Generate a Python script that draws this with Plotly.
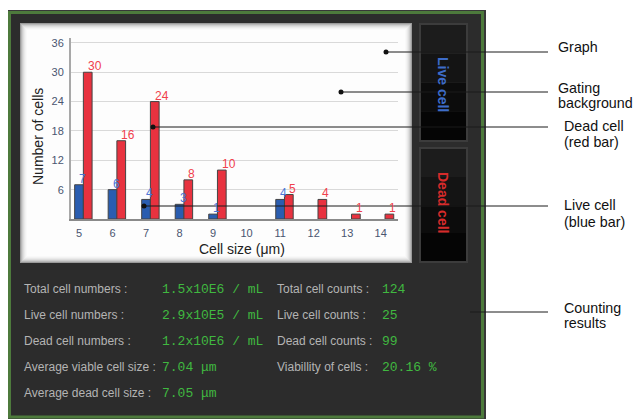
import plotly.graph_objects as go

# --- datos del histograma ---
cell_sizes = [5, 6, 7, 8, 9, 10, 11, 12, 13, 14]
live_counts = [7, 6, 4, 3, 1, 0, 4, 0, 0, 0]
dead_counts = [30, 16, 24, 8, 10, 0, 5, 4, 1, 1]
y_ticks = [6, 12, 18, 24, 30, 36]

# --- resultados del conteo ---
left_labels = ["Total cell numbers :", "Live cell numbers :", "Dead cell numbers :",
               "Average viable cell size :", "Average dead cell size :"]
left_values = ["1.5x10E6 / mL", "2.9x10E5 / mL", "1.2x10E6 / mL", "7.04 \u03bcm", "7.05 \u03bcm"]
right_labels = ["Total cell counts :", "Live cell counts :", "Dead cell counts :", "Viabillity of cells :"]
right_values = ["124", "25", "99", "20.16 %"]

# la pagina html deja un margen de 8 px arriba y a la izquierda
OFF = 8
FW, FH = 641 - OFF, 419 - OFF


def px(x):
    return (x - OFF) / FW


def py(y):
    return 1 - (y - OFF) / FH


BLUE = "#2a5db0"
RED = "#e8323f"
BAR_W = 0.26

fig = go.Figure()

fig.add_trace(go.Bar(
    x=cell_sizes, y=[v if v else None for v in live_counts], offset=-BAR_W / 2, width=BAR_W,
    marker=dict(color=BLUE, line=dict(color="#444", width=1)),
    name="Live cell", showlegend=False,
))
fig.add_trace(go.Bar(
    x=cell_sizes, y=[v if v else None for v in dead_counts], offset=BAR_W / 2, width=BAR_W,
    marker=dict(color=RED, line=dict(color="#444", width=1)),
    name="Dead cell", showlegend=False,
))

annotations = []

# etiquetas de valor sobre las barras
for s, v in zip(cell_sizes, live_counts):
    if v > 0:
        annotations.append(dict(x=s, y=v, xref="x", yref="y", text=str(v), showarrow=False,
                                xanchor="left", yanchor="bottom", xshift=-2, yshift=-3,
                                font=dict(family="Liberation Sans, Arial", size=12, color="#4d76d6")))
for s, v in zip(cell_sizes, dead_counts):
    if v > 0:
        annotations.append(dict(x=s + BAR_W, y=v, xref="x", yref="y", text=str(v), showarrow=False,
                                xanchor="left", yanchor="bottom", xshift=-2, yshift=-3,
                                font=dict(family="Liberation Sans, Arial", size=12, color="#f0404c")))

# titulos de ejes
annotations.append(dict(x=px(38), y=py(136), xref="paper", yref="paper", text="Number of cells",
                        textangle=-90, showarrow=False, xanchor="center", yanchor="middle",
                        font=dict(family="Liberation Sans, Arial", size=14, color="#222")))
annotations.append(dict(x=px(242), y=py(249), xref="paper", yref="paper", text="Cell size (\u03bcm)",
                        showarrow=False, xanchor="center", yanchor="middle",
                        font=dict(family="Liberation Sans, Arial", size=14, color="#222")))

# botones
annotations.append(dict(x=px(443), y=py(84), xref="paper", yref="paper", text="<b>Live cell</b>",
                        textangle=90, showarrow=False, xanchor="center", yanchor="middle",
                        font=dict(family="Liberation Sans, Arial", size=14, color="#3d6cc9")))
annotations.append(dict(x=px(443), y=py(202), xref="paper", yref="paper", text="<b>Dead cell</b>",
                        textangle=90, showarrow=False, xanchor="center", yanchor="middle",
                        font=dict(family="Liberation Sans, Arial", size=14, color="#d62b2b")))

# resultados
row_y = [289, 315, 341, 367, 393]
label_font = dict(family="Liberation Sans, Arial", size=12, color="#b4b4b4")
value_font = dict(family="Liberation Mono, DejaVu Sans Mono", size=13, color="#40b840")
for i, (lab, val) in enumerate(zip(left_labels, left_values)):
    annotations.append(dict(x=px(22), y=py(row_y[i]), xref="paper", yref="paper", text=lab,
                            showarrow=False, xanchor="left", yanchor="middle", font=label_font))
    annotations.append(dict(x=px(160), y=py(row_y[i]), xref="paper", yref="paper", text=val,
                            showarrow=False, xanchor="left", yanchor="middle", font=value_font))
for i, (lab, val) in enumerate(zip(right_labels, right_values)):
    annotations.append(dict(x=px(275), y=py(row_y[i]), xref="paper", yref="paper", text=lab,
                            showarrow=False, xanchor="left", yanchor="middle", font=label_font))
    annotations.append(dict(x=px(380), y=py(row_y[i]), xref="paper", yref="paper", text=val,
                            showarrow=False, xanchor="left", yanchor="middle", font=value_font))

# llamadas de la derecha: (punto x, y linea, x texto, lineas de texto con su y)
callouts = [
    (386, 52, 556, [("Graph", 47)]),
    (341, 92, 556, [("Gating", 88), ("background", 103)]),
    (153, 127, 562, [("Dead cell", 126), ("(red bar)", 142)]),
    (144, 206, 562, [("Live cell", 205), ("(blue bar)", 222)]),
    (470, 312, 562, [("Counting", 308), ("results", 323)]),
]
call_font = dict(family="Liberation Sans, Arial", size=14.3, color="#111")

shapes = []
# marco oscuro
shapes.append(dict(type="rect", xref="paper", yref="paper", x0=px(7), x1=px(486), y0=py(10), y1=py(421),
                   fillcolor="#383838", line=dict(width=0), layer="below"))
shapes.append(dict(type="rect", xref="paper", yref="paper", x0=px(9.5), x1=px(482.5), y0=py(12.5), y1=py(417),
                   fillcolor="#2c2c2c", line=dict(color="#4d7a3c", width=3), layer="below"))
# panel blanco con borde degradado
grad = ["#9a9a9a", "#b8b8b8", "#cecece", "#dedede", "#eaeaea", "#f3f3f3", "#f9f9f9", "#fdfdfd"]
for k, c in enumerate(grad):
    shapes.append(dict(type="rect", xref="paper", yref="paper", x0=px(20 + k), x1=px(412 - k),
                       y0=py(23 + k), y1=py(263 - k), fillcolor=c, line=dict(width=0), layer="below"))
# botones
for (y0, y1) in [(23, 142), (147, 263)]:
    shapes.append(dict(type="rect", xref="paper", yref="paper", x0=px(419), x1=px(468), y0=py(y0), y1=py(y1),
                       fillcolor="#3c3c3c", line=dict(width=0), layer="below"))
    band = (y1 - y0 - 4) / 4
    for j, c in enumerate(["#1c1c1c", "#141414", "#0c0c0c", "#050505"]):
        shapes.append(dict(type="rect", xref="paper", yref="paper", x0=px(421), x1=px(466),
                           y0=py(y0 + 2 + j * band), y1=py(y0 + 2 + (j + 1) * band),
                           fillcolor=c, line=dict(width=0), layer="below"))

for dot_x, line_y, tx, lines in callouts:
    shapes.append(dict(type="line", xref="paper", yref="paper", x0=px(dot_x), x1=px(548),
                       y0=py(line_y), y1=py(line_y), line=dict(color="#1a1a1a", width=1), layer="above"))
    if dot_x < 420:
        shapes.append(dict(type="circle", xref="paper", yref="paper", x0=px(dot_x - 2.5), x1=px(dot_x + 2.5),
                           y0=py(line_y - 2.5), y1=py(line_y + 2.5), fillcolor="#111",
                           line=dict(width=0), layer="above"))
    for txt, ty in lines:
        annotations.append(dict(x=px(tx), y=py(ty), xref="paper", yref="paper", text=txt, showarrow=False,
                                xanchor="left", yanchor="middle", font=call_font))

fig.update_layout(
    width=FW, height=FH,
    margin=dict(l=0, r=0, t=0, b=0),
    paper_bgcolor="white",
    plot_bgcolor="rgba(0,0,0,0)",
    barmode="overlay",
    showlegend=False,
    shapes=shapes,
    annotations=annotations,
    xaxis=dict(
        domain=[px(71), px(398)], range=[4.761, 14.517],
        tickvals=cell_sizes, ticktext=[str(s) for s in cell_sizes],
        showgrid=False, zeroline=False, showline=True, linecolor="#8a8a8a", linewidth=2,
        ticks="", ticklabelstandoff=3,
        tickfont=dict(family="Liberation Sans, Arial", size=11, color="#4a5570"),
    ),
    yaxis=dict(
        domain=[py(219), py(38)], range=[0, 37],
        tickvals=y_ticks, showgrid=True, gridcolor="#d9d9d9", gridwidth=1,
        zeroline=False, showline=True, linecolor="#a8a8a8", linewidth=2,
        ticks="", ticklabelstandoff=3,
        tickfont=dict(family="Liberation Sans, Arial", size=11, color="#4a5570"),
    ),
)

fig.write_html("out.html")
